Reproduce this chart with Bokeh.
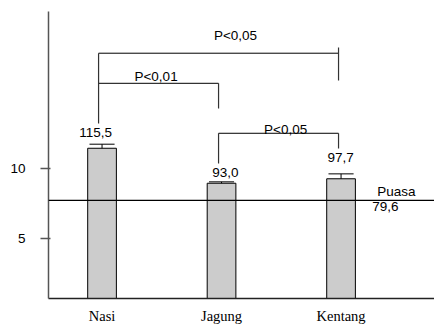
from bokeh.plotting import figure
from bokeh.models import Range1d, FixedTicker, Span, ColumnDataSource
from bokeh.core.properties import value
from bokeh.embed import file_html
from bokeh.resources import INLINE

# ---- data (plot units) ----
categories = ["Nasi", "Jagung", "Kentang"]
cat_pos = [1, 2, 3]
means = [11.47, 8.97, 9.29]
err_top = [11.76, 9.07, 9.64]
mean_labels = ["115,5", "93,0", "97,7"]
fasting = 7.74
fasting_name = "Puasa"
fasting_label = "79,6"
y_ticks = [5, 10]

# ---- annotation layout (positions in data units) ----
value_label_x = [0.946, 2.033, 2.996]
value_label_y = [12.59, 9.74, 10.81]

# significance brackets: horizontal segments
br_h_x0 = [0.971, 0.971, 1.975]
br_h_x1 = [2.979, 1.975, 2.979]
br_h_y = [18.26, 16.11, 12.54]
# vertical legs
br_v_x = [0.971, 2.979, 1.975, 1.975, 2.979]
br_v_y0 = [18.26, 18.66, 16.11, 12.54, 12.54]
br_v_y1 = [13.24, 16.31, 14.31, 10.38, 11.45]
p_text = ["P<0,05", "P<0,01", "P<0,05"]
p_x = [2.117, 1.452, 2.536]
p_y = [19.52, 16.59, 12.81]

FONT = "Liberation Sans"

p = figure(width=434, height=326, output_backend="svg", toolbar_location=None,
           x_range=Range1d(0.552, 3.782), y_range=Range1d(0.736, 21.24),
           min_border_left=48, min_border_right=0, min_border_top=11,
           min_border_bottom=28)
p.outline_line_color = None
p.xgrid.visible = False
p.ygrid.visible = False
p.background_fill_color = "white"

# axes
p.yaxis.ticker = FixedTicker(ticks=y_ticks)
p.yaxis.major_tick_out = 8
p.yaxis.major_tick_in = 2
p.yaxis.minor_tick_line_color = None
p.yaxis.axis_line_color = "#555555"
p.yaxis.axis_line_width = 1.5
p.yaxis.major_tick_line_color = "#555555"
p.yaxis.major_tick_line_width = 1.5
p.yaxis.major_label_standoff = 15
p.yaxis.major_label_text_font = FONT
p.yaxis.major_label_text_font_size = "13.5px"
p.yaxis.major_label_text_color = "black"
p.yaxis.major_label_text_baseline = "top"

p.xaxis.ticker = FixedTicker(ticks=cat_pos)
p.xaxis.major_label_overrides = {c: n for c, n in zip(cat_pos, categories)}
p.xaxis.major_tick_out = 0
p.xaxis.major_tick_in = 0
p.xaxis.minor_tick_line_color = None
p.xaxis.axis_line_color = "#222222"
p.xaxis.axis_line_width = 1.5
p.xaxis.major_label_standoff = 9
p.xaxis.major_label_text_font = "Liberation Serif"
p.xaxis.major_label_text_font_size = "14.5px"
p.xaxis.major_label_text_color = "black"

# bars
src = ColumnDataSource(dict(x=cat_pos, top=means, err=err_top,
                            lab=mean_labels, lx=value_label_x, ly=value_label_y))
p.vbar(x="x", top="top", bottom=0, width=0.24, source=src,
       fill_color="#cccccc", line_color="black", line_width=1)

# error bars
p.segment(x0="x", y0="top", x1="x", y1="err", source=src, line_color="black", line_width=1)
cap_w = 0.21
p.segment(x0=[c - cap_w / 2 for c in cat_pos], x1=[c + cap_w / 2 for c in cat_pos],
          y0=err_top, y1=err_top, line_color="black", line_width=1)

# fasting line
p.add_layout(Span(location=fasting, dimension="width", line_color="black", line_width=1.2))
p.text(x=[3.303], y=[8.4], text=[fasting_name], text_font=value(FONT),
       text_font_size="13.5px", text_align="left", text_baseline="middle", text_color="black")
p.text(x=[3.261], y=[7.3], text=[fasting_label], text_font=value(FONT),
       text_font_size="13.5px", text_align="left", text_baseline="middle", text_color="black")

# value labels
p.text(x="lx", y="ly", text="lab", source=src, text_font=value(FONT),
       text_font_size="13.5px", text_align="center", text_baseline="middle", text_color="black")

# brackets
p.segment(x0=br_h_x0, x1=br_h_x1, y0=br_h_y, y1=br_h_y, line_color="black", line_width=1)
p.segment(x0=br_v_x, x1=br_v_x, y0=br_v_y0, y1=br_v_y1, line_color="#333333", line_width=1.2)
p.text(x=p_x, y=p_y, text=p_text, text_font=value(FONT), text_font_size="13.5px",
       text_align="center", text_baseline="middle", text_color="black")

open("out.html", "w").write(file_html(p, INLINE))
